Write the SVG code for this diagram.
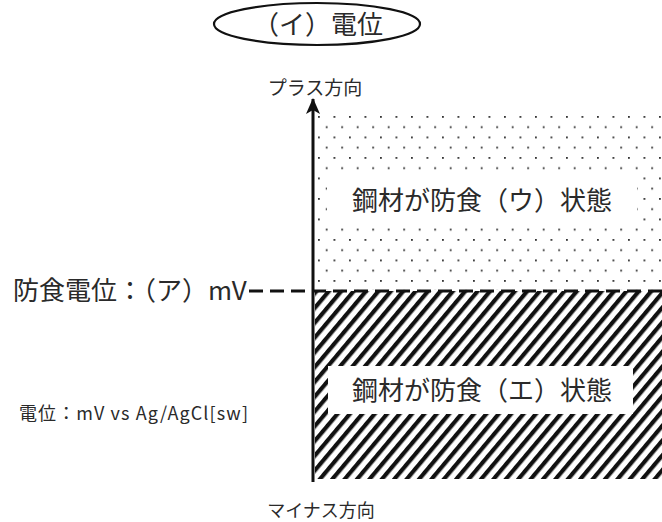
<svg xmlns="http://www.w3.org/2000/svg" width="662" height="522" viewBox="0 0 662 522">
<style>
.t{font-family:"Noto Sans CJK JP","Noto Sans",sans-serif;fill:#2a2a2a}
.ax{stroke:#111;stroke-width:3;fill:none}
</style>
<defs>
<pattern id="dots" width="15.5" height="20.5" patternUnits="userSpaceOnUse" x="318" y="116">
<rect x="0" y="0" width="1.8" height="1.8" fill="#333"/>
<rect x="7.75" y="10.25" width="1.8" height="1.8" fill="#333"/>
</pattern>
<pattern id="hatch" width="9.5" height="10" patternUnits="userSpaceOnUse" patternTransform="rotate(40)">
<rect x="0" y="0" width="4.2" height="10" fill="#111"/>
</pattern>
<marker id="arr" markerWidth="16" markerHeight="14" refX="15" refY="7" orient="auto" markerUnits="userSpaceOnUse" viewBox="0 0 16 14">
<path d="M16,7 L0,0 L4,7 L0,14 Z" fill="#111"/>
</marker>
</defs>
<g id="title">
<ellipse cx="317" cy="24" rx="103" ry="21" fill="none" stroke="#111" stroke-width="2.2"/>
<text class="t" x="318" y="34" font-size="26" text-anchor="middle">（イ）電位</text>
</g>
<g id="plus-label"><text class="t" x="315" y="95" font-size="19" text-anchor="middle">プラス方向</text></g>
<g id="region-upper">
<rect x="315" y="113" width="347" height="177" fill="url(#dots)"/>
<rect x="327" y="176" width="310" height="48" fill="#fff"/>
<text class="t" x="482" y="210" font-size="26" text-anchor="middle">鋼材が防食（ウ）状態</text>
</g>
<g id="region-lower">
<rect x="315" y="291" width="347" height="188" fill="url(#hatch)"/>
<rect x="328" y="366" width="305" height="48" fill="#fff"/>
<text class="t" x="482" y="400" font-size="26" text-anchor="middle">鋼材が防食（エ）状態</text>
</g>
<g id="threshold-label"><text class="t" x="13" y="300" font-size="26">防食電位：（ア）mV</text></g>
<g id="unit-label"><text class="t" x="19" y="420" font-size="18" textLength="229" lengthAdjust="spacing">電位：mV vs Ag/AgCl[sw]</text></g>
<g id="minus-label"><text class="t" x="321" y="517" font-size="18" text-anchor="middle">マイナス方向</text></g>
<g id="connectors">
<line class="ax" x1="313" y1="482" x2="313" y2="99" marker-end="url(#arr)"/>
<line x1="249" y1="291" x2="662" y2="291" stroke="#111" stroke-width="3" stroke-dasharray="14 7"/>
</g>
</svg>
